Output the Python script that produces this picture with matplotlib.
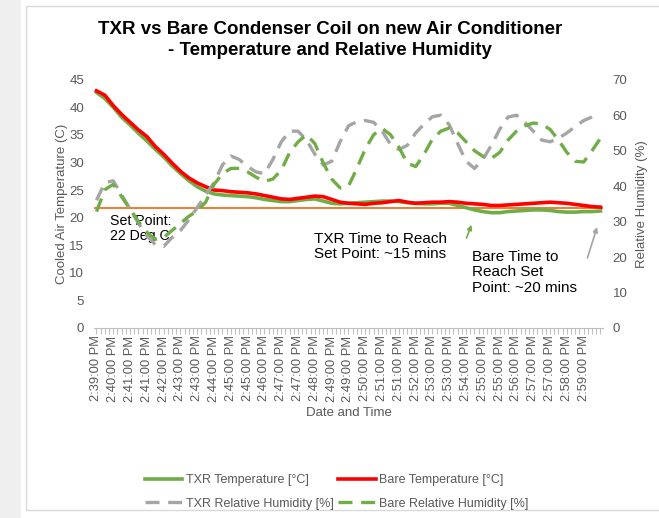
import matplotlib
matplotlib.use("Agg")
import matplotlib.pyplot as plt
from matplotlib.patches import Rectangle
import numpy as np

plt.rcParams['font.family'] = ['Liberation Sans', 'DejaVu Sans']

# sample index on the category axis (every 2nd of 121 categories)
n_categories = 121
sample_step = 2

txr_temp = [42.7, 41.6, 40.0, 38.2, 36.8, 35.3, 33.9, 32.4, 31.0, 29.4,
            28.0, 26.7, 25.6, 24.8, 24.3, 24.1, 24.0, 23.9, 23.8, 23.6,
            23.3, 23.1, 22.9, 22.9, 23.1, 23.3, 23.4, 23.0, 22.6, 22.5,
            22.6, 22.7, 22.8, 22.9, 23.0, 23.0, 22.9, 22.7, 22.6, 22.5,
            22.5, 22.6, 22.6, 22.2, 21.8, 21.4, 21.1, 20.9, 20.9, 21.1,
            21.2, 21.3, 21.4, 21.4, 21.3, 21.1, 21.0, 21.0, 21.1, 21.1, 21.2]

bare_temp = [43.0, 42.2, 40.3, 38.7, 37.3, 35.9, 34.7, 32.9, 31.5, 29.9,
             28.4, 27.2, 26.3, 25.6, 25.0, 24.9, 24.7, 24.6, 24.5, 24.3,
             24.0, 23.7, 23.4, 23.3, 23.5, 23.7, 23.9, 23.8, 23.3, 22.8,
             22.6, 22.5, 22.4, 22.6, 22.7, 22.9, 23.1, 22.8, 22.6, 22.7,
             22.8, 22.8, 22.9, 22.8, 22.6, 22.5, 22.4, 22.2, 22.2, 22.3,
             22.4, 22.5, 22.6, 22.7, 22.8, 22.7, 22.6, 22.4, 22.2, 22.0, 21.9]

txr_rh = [36.0, 41.0, 41.5, 37.5, 33.5, 29.5, 26.0, 23.5, 23.0, 25.5,
          27.5, 30.5, 34.0, 37.5, 41.0, 46.0, 48.5, 47.5, 45.5, 44.0,
          43.5, 47.5, 52.5, 55.5, 55.5, 53.0, 49.0, 46.0, 47.0, 52.5,
          57.0, 58.2, 58.5, 58.0, 55.5, 51.8, 50.3, 51.5, 55.0, 57.5,
          59.6, 60.0, 57.3, 52.0, 47.0, 45.0, 47.5, 51.5, 56.0, 59.5,
          60.0, 58.0, 55.5, 53.0, 52.5, 53.5, 55.0, 56.8, 58.5, 59.5, 59.8]

bare_rh = [32.8, 39.0, 40.5, 37.0, 33.5, 30.0, 27.0, 25.0, 25.5, 27.5,
           29.5, 31.5, 33.0, 35.5, 40.5, 43.5, 45.0, 45.0, 44.0, 42.5,
           41.3, 42.0, 44.5, 49.5, 52.5, 54.5, 52.0, 46.5, 42.0, 39.5,
           40.0, 45.0, 50.5, 54.5, 56.3, 54.5, 51.0, 46.5, 45.5, 49.0,
           53.3, 55.5, 56.4, 55.0, 52.5, 50.0, 48.4, 47.8, 49.5, 53.0,
           55.5, 57.0, 57.8, 57.5, 56.0, 53.0, 49.5, 47.0, 46.8, 50.0, 53.5]

set_point = 21.8

tick_labels = ["2:39:00 PM", "2:40:00 PM", "2:41:00 PM", "2:41:00 PM", "2:42:00 PM",
               "2:43:00 PM", "2:43:00 PM", "2:44:00 PM", "2:45:00 PM", "2:45:00 PM",
               "2:46:00 PM", "2:47:00 PM", "2:47:00 PM", "2:48:00 PM", "2:49:00 PM",
               "2:49:00 PM", "2:50:00 PM", "2:51:00 PM", "2:51:00 PM", "2:52:00 PM",
               "2:53:00 PM", "2:53:00 PM", "2:54:00 PM", "2:55:00 PM", "2:55:00 PM",
               "2:56:00 PM", "2:57:00 PM", "2:57:00 PM", "2:58:00 PM", "2:59:00 PM"]
label_every = 4

GREEN = '#70AD47'
RED = '#FF0000'
GRAY = '#A5A5A5'
ORANGE = '#ED7D31'
TXT = '#595959'

x = np.arange(len(txr_temp)) * sample_step

fig = plt.figure(figsize=(6.59, 5.18), dpi=100)
# outer frame like the screenshot
fig.patches.append(Rectangle((0, 0), 0.032, 1, transform=fig.transFigure,
                             facecolor='#efefef', edgecolor='none', zorder=-5))
fig.patches.append(Rectangle((0.039, 0.015), 1.2, 0.973, transform=fig.transFigure,
                             facecolor='white', edgecolor='#d9d9d9', lw=1, zorder=-4))

ax = fig.add_axes([0.1426, 0.367, 0.7724, 0.479])
ax.set_facecolor('none')
ax.axhline(set_point, color=ORANGE, lw=1.4, zorder=1)
l1, = ax.plot(x, txr_temp, color=GREEN, lw=2.6, label='TXR Temperature [°C]', zorder=2)
l2, = ax.plot(x, bare_temp, color=RED, lw=2.6, label='Bare Temperature [°C]', zorder=3)
ax.set_ylim(0, 45)
ax.set_yticks(np.arange(0, 46, 5))
ax.set_xlim(-0.6, n_categories - 1 + 0.6)
major = np.arange(0, len(tick_labels) * label_every, label_every)
ax.set_xticks(major)
ax.set_xticklabels(tick_labels, rotation=90, fontsize=9.3, color=TXT)
ax.set_xticks(np.arange(0, n_categories), minor=True)
ax.tick_params(axis='x', which='both', length=4, color='#bfbfbf', width=0.8, pad=1.5)
ax.tick_params(axis='y', length=0, labelsize=9.5, colors=TXT, pad=7)
for s in ['top', 'left', 'right']:
    ax.spines[s].set_visible(False)
ax.spines['bottom'].set_color('#bfbfbf')
ax.set_ylabel('Cooled Air Temperature (C)', fontsize=9.5, color=TXT, labelpad=1)
ax.set_xlabel('Date and Time', fontsize=9.5, color=TXT, labelpad=4)

ax2 = ax.twinx()
l3, = ax2.plot(x, txr_rh, color=GRAY, lw=2.4, ls=(0, (4.2, 2.6)),
               label='TXR Relative Humidity [%]')
l4, = ax2.plot(x, bare_rh, color=GREEN, lw=2.4, ls=(0, (4.2, 2.6)),
               label='Bare Relative Humidity [%]')
ax2.set_ylim(0, 70)
ax2.set_yticks(np.arange(0, 71, 10))
ax2.tick_params(axis='y', length=0, labelsize=9.5, colors=TXT, pad=7)
for s in ['top', 'left', 'right', 'bottom']:
    ax2.spines[s].set_visible(False)
ax2.set_ylabel('Relative Humidity (%)', fontsize=9.5, color=TXT, labelpad=6)

# annotations
ax.text(3.2, 20.6, 'Set Point:\n22 Deg C', fontsize=10.2, color='black',
        va='top', ha='left', linespacing=1.1)
ax.text(51.7, 17.4, 'TXR Time to Reach\nSet Point: ~15 mins', fontsize=11,
        color='black', va='top', ha='left', linespacing=1.12)
ax.text(89.3, 14.1, 'Bare Time to\nReach Set\nPoint: ~20 mins', fontsize=11,
        color='black', va='top', ha='left', linespacing=1.12)
ax.annotate('', xy=(89.3, 18.7), xytext=(88.1, 16.3),
            arrowprops=dict(arrowstyle='-|>', color=GREEN, lw=1.2,
                            mutation_scale=7, shrinkA=0, shrinkB=0))
ax.annotate('', xy=(119.2, 18.3), xytext=(116.9, 12.7),
            arrowprops=dict(arrowstyle='-|>', color=GRAY, lw=1.2,
                            mutation_scale=7, shrinkA=0, shrinkB=0))

fig.suptitle('TXR vs Bare Condenser Coil on new Air Conditioner\n- Temperature and Relative Humidity',
             fontsize=13.5, fontweight='bold', x=0.501, y=0.96, linespacing=1.32)

leg = fig.legend(handles=[l1, l3, l2, l4], loc='center', ncol=2,
                 bbox_to_anchor=(0.511, 0.05), frameon=False, fontsize=9,
                 handlelength=3.0, columnspacing=0.4, labelcolor=TXT,
                 handletextpad=0.25, labelspacing=0.9)

fig.savefig('out.png', dpi=100)
